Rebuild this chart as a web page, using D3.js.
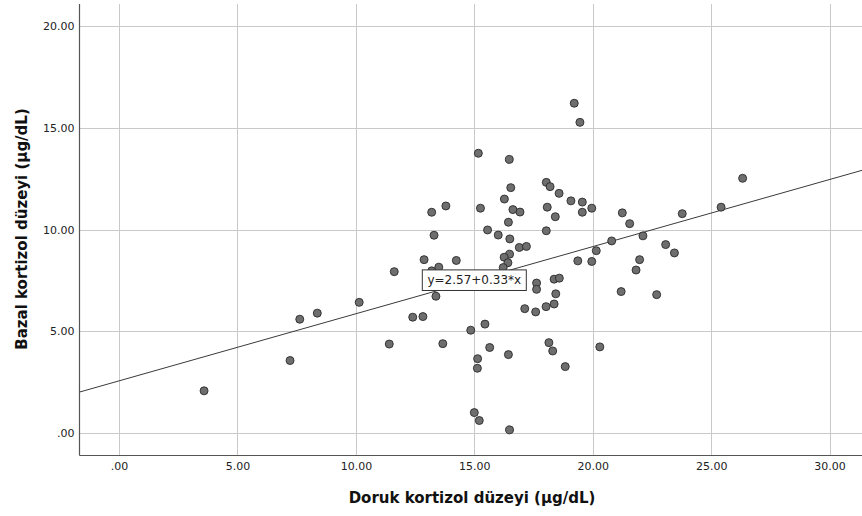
<!DOCTYPE html>
<html>
<head>
<meta charset="utf-8">
<script src="https://cdn.jsdelivr.net/npm/d3@7"></script>
<style>
  html, body { margin: 0; padding: 0; background: #fff; }
  svg { display: block; }
</style>
</head>
<body>
<svg id="chart" width="862" height="516"></svg>
<script>
// ---- Data ----
const dorukKortizol = [
  3.59, 7.22, 7.63, 8.37, 10.14, 11.41, 11.62, 12.40, 12.83, 12.88,
  13.20, 13.80, 13.30, 13.38, 13.50, 13.20, 14.24, 13.67, 14.85, 15.14,
  15.13, 15.00, 15.21, 15.17, 15.26,
  19.22, 19.46, 16.48, 18.04, 18.20, 16.54, 18.58, 16.27, 19.08, 19.56,
  18.08, 19.96, 16.63, 16.93, 19.56, 21.25, 18.42, 16.44, 21.56, 15.56,
  18.04, 16.01, 22.12, 16.50, 20.80, 16.90, 17.20, 20.15, 16.49, 16.26,
  21.98, 19.37, 19.96, 16.42, 16.22, 21.83, 17.63, 17.63, 18.37, 18.59,
  18.44, 21.20, 22.70, 17.13, 17.59, 18.03, 18.37, 15.45, 18.15, 18.31,
  15.65, 16.44, 20.30, 18.84, 16.49,
  26.33, 25.42, 23.78, 23.08, 23.45
];
const bazalKortizol = [
  2.08, 3.57, 5.60, 5.90, 6.43, 4.38, 7.94, 5.70, 5.73, 8.53,
  10.86, 11.17, 9.73, 6.73, 8.16, 7.98, 8.49, 4.40, 5.06, 3.66,
  3.19, 1.01, 0.62, 13.76, 11.06,
  16.22, 15.28, 13.46, 12.33, 12.12, 12.07, 11.79, 11.51, 11.42, 11.36,
  11.11, 11.06, 10.99, 10.87, 10.86, 10.83, 10.64, 10.37, 10.30, 9.99,
  9.95, 9.74, 9.70, 9.55, 9.45, 9.13, 9.18, 8.97, 8.80, 8.65,
  8.53, 8.47, 8.44, 8.38, 8.14, 8.02, 7.38, 7.07, 7.57, 7.62,
  6.85, 6.96, 6.81, 6.12, 5.96, 6.22, 6.35, 5.36, 4.45, 4.04,
  4.21, 3.86, 4.24, 3.27, 0.16,
  12.53, 11.11, 10.79, 9.27, 8.86
];
const fitCoefficients = [2.57, 0.33];            // intercept, slope
const fitLabel = "y=2.57+0.33*x";
const fitLabelAtX = [15];
const xTicks = [0, 5, 10, 15, 20, 25, 30];
const yTicks = [0, 5, 10, 15, 20];
const xTickLabels = [".00", "5.00", "10.00", "15.00", "20.00", "25.00", "30.00"];
const yTickLabels = [".00", "5.00", "10.00", "15.00", "20.00"];
const xTitle = "Doruk kortizol düzeyi (µg/dL)";
const yTitle = "Bazal kortizol düzeyi (µg/dL)";

// ---- Layout ----
const svg = d3.select("#chart");
const plot = { left: 79.5, right: 862, top: 4, bottom: 455.5 };

const x = d3.scaleLinear().domain([-1.67, 31.37]).range([plot.left, plot.right]);
const y = d3.scaleLinear().domain([-1.1, 21.1]).range([plot.bottom, plot.top]);

const font = "'DejaVu Sans', sans-serif";

// Gridlines
svg.append("g").selectAll("line").data(xTicks).join("line")
  .attr("x1", d => Math.round(x(d)) + 0.5).attr("x2", d => Math.round(x(d)) + 0.5)
  .attr("y1", plot.top).attr("y2", plot.bottom)
  .attr("stroke", "#c9c9c9").attr("stroke-width", 1);
svg.append("g").selectAll("line").data(yTicks).join("line")
  .attr("y1", d => Math.round(y(d)) + 0.5).attr("y2", d => Math.round(y(d)) + 0.5)
  .attr("x1", plot.left).attr("x2", plot.right)
  .attr("stroke", "#c9c9c9").attr("stroke-width", 1);

// Axes (d3 axes, no tick marks)
const xAxis = d3.axisBottom(x).tickValues(xTicks)
  .tickFormat((d, i) => xTickLabels[i]).tickSize(0).tickPadding(7);
const yAxis = d3.axisLeft(y).tickValues(yTicks)
  .tickFormat((d, i) => yTickLabels[i]).tickSize(0).tickPadding(5);

const gx = svg.append("g").attr("transform", `translate(0,${plot.bottom})`).call(xAxis);
gx.select(".domain").attr("d", `M${plot.left},0H${plot.right}`).attr("stroke", "#555").attr("stroke-width", 1.2);
gx.selectAll("text").attr("font-family", font).attr("font-size", 11).attr("fill", "#222");

const gy = svg.append("g").attr("transform", `translate(${plot.left},0)`).call(yAxis);
gy.select(".domain").attr("d", `M0,${plot.top}V${plot.bottom}`).attr("stroke", "#555").attr("stroke-width", 1.2);
gy.selectAll("text").attr("font-family", font).attr("font-size", 11).attr("fill", "#222");

// Fit line
const xd = x.domain();
const fit = v => fitCoefficients[0] + fitCoefficients[1] * v;
svg.append("line")
  .attr("x1", x(xd[0])).attr("y1", y(fit(xd[0])))
  .attr("x2", x(xd[1])).attr("y2", y(fit(xd[1])))
  .attr("stroke", "#3a3a3a").attr("stroke-width", 1);

// Points
const pts = dorukKortizol.map((d, i) => [d, bazalKortizol[i]]);
svg.append("g").selectAll("circle").data(pts).join("circle")
  .attr("cx", d => x(d[0])).attr("cy", d => y(d[1])).attr("r", 4)
  .attr("fill", "#6e6e6e").attr("stroke", "#2a2a2a").attr("stroke-width", 0.9);

// Fit label
const lx = x(fitLabelAtX[0]), ly = y(fit(fitLabelAtX[0]));
const lg = svg.append("g");
lg.append("rect")
  .attr("x", lx - 52).attr("y", ly - 10.3).attr("width", 104).attr("height", 20.6)
  .attr("fill", "#fff").attr("stroke", "#333").attr("stroke-width", 1);
lg.append("text").attr("x", lx).attr("y", ly)
  .attr("text-anchor", "middle").attr("dominant-baseline", "central")
  .attr("font-family", font).attr("font-size", 12).attr("fill", "#222").text(fitLabel);

// Axis titles
svg.append("text").attr("x", 472).attr("y", 498)
  .attr("text-anchor", "middle").attr("dominant-baseline", "central")
  .attr("font-family", font).attr("font-weight", "bold").attr("font-size", 15).attr("fill", "#111")
  .text(xTitle);
svg.append("text").attr("transform", "translate(22,229) rotate(-90)")
  .attr("text-anchor", "middle").attr("dominant-baseline", "central")
  .attr("font-family", font).attr("font-weight", "bold").attr("font-size", 15).attr("fill", "#111")
  .text(yTitle);
</script>
</body>
</html>
